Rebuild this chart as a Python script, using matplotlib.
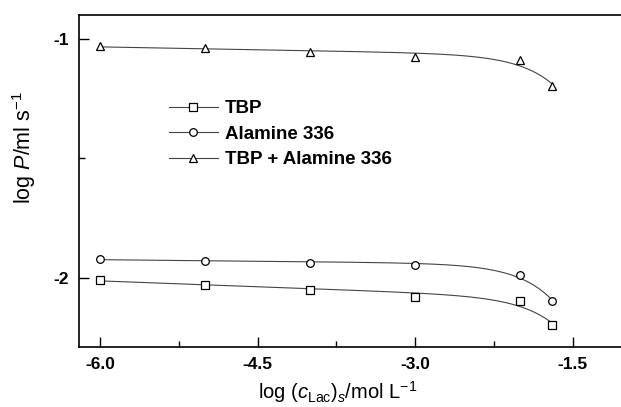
import numpy as np
import matplotlib
matplotlib.use("Agg")
import matplotlib.pyplot as plt
from matplotlib.ticker import MultipleLocator

# -------- DATA --------
log_c = [-6.0, -5.0, -4.0, -3.0, -2.0, -1.7]
tbp = [-2.008, -2.028, -2.049, -2.079, -2.097, -2.197]
alamine = [-1.919, -1.929, -1.938, -1.947, -1.987, -2.097]
tbp_alamine = [-1.028, -1.039, -1.056, -1.076, -1.087, -1.197]

SERIES = [
    ("TBP", tbp, "s"),
    ("Alamine 336", alamine, "o"),
    ("TBP + Alamine 336", tbp_alamine, "^"),
]
# ---------------------------------------------

plt.rcParams["font.family"] = ["Liberation Sans", "DejaVu Sans"]
plt.rcParams["mathtext.fontset"] = "custom"
plt.rcParams["mathtext.rm"] = "Liberation Sans"
plt.rcParams["mathtext.it"] = "Liberation Sans:italic"


def smooth_fit(x, y, k=3.0):
    # y = a + b*x + c*exp(k*x), least squares
    x = np.asarray(x)
    A = np.column_stack([np.ones_like(x), x, np.exp(k * x)])
    coef, *_ = np.linalg.lstsq(A, np.asarray(y), rcond=None)
    xs = np.linspace(min(x), max(x), 300)
    return xs, coef[0] + coef[1] * xs + coef[2] * np.exp(k * xs)


fig = plt.figure(figsize=(6.21, 4.07), dpi=100)
ax = fig.add_axes([0.127, 0.147, 0.88, 0.816])

mk_style = dict(ms=5.5, mfc="white", mec="black", mew=0.9)
for label, vals, mk in SERIES:
    xs, ys = smooth_fit(log_c, vals)
    ax.plot(xs, ys, color="#444444", lw=0.8)
    ax.plot(log_c, vals, linestyle="none", marker=mk, **mk_style)
    # legend proxy
    ax.plot([], [], color="#444444", lw=0.8, marker=mk, label=label, **mk_style)

ax.set_xlim(-6.2, -1.0)
ax.set_ylim(-2.29, -0.9)
ax.xaxis.set_major_locator(MultipleLocator(1.5))
ax.xaxis.set_minor_locator(MultipleLocator(0.75))
ax.yaxis.set_major_locator(MultipleLocator(1.0))
ax.yaxis.set_minor_locator(MultipleLocator(0.5))
ax.xaxis.set_major_formatter(plt.FuncFormatter(lambda v, p: f"{v:.1f}"))
ax.yaxis.set_major_formatter(plt.FuncFormatter(lambda v, p: f"{v:.0f}"))

ax.tick_params(which="both", direction="in", top=False, right=False,
               labelsize=12.5, width=1.0)
ax.tick_params(which="major", length=7, pad=7)
ax.tick_params(which="minor", length=4)
for lab in ax.get_xticklabels() + ax.get_yticklabels():
    lab.set_fontweight("bold")

for sp in ax.spines.values():
    sp.set_linewidth(1.2)
ax.spines["right"].set_visible(False)

ax.set_xlabel(r"log ($c_{\mathrm{Lac}}$)$_{s}$/mol L$^{-1}$", fontsize=14.5)
ax.xaxis.set_label_coords(0.474, -0.096)
ax.set_ylabel(r"log $P$/ml s$^{-1}$", fontsize=15.5)
ax.yaxis.set_label_coords(-0.075, 0.60)

ax.legend(loc="upper left", bbox_to_anchor=(0.134, 0.795), frameon=False,
          prop={"weight": "bold", "size": 13.5}, handlelength=2.6,
          handletextpad=0.4, labelspacing=0.45)

fig.savefig("out.png", dpi=100)
